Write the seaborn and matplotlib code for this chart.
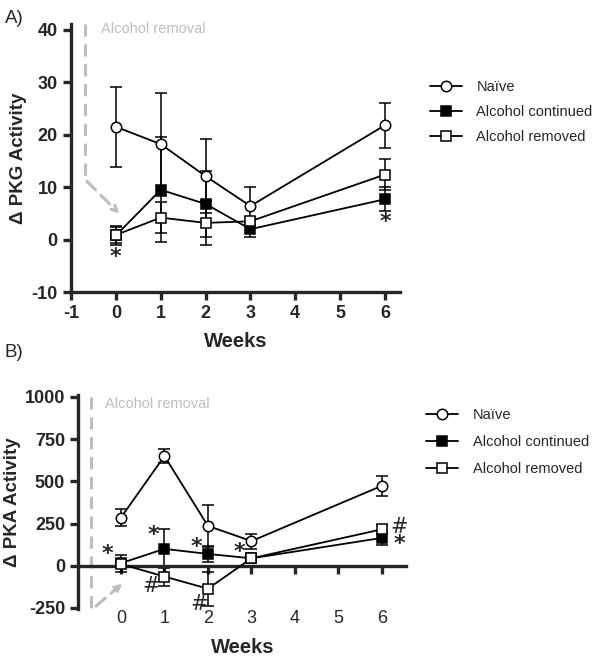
import numpy as np
import pandas as pd
import matplotlib
matplotlib.use("Agg")
import matplotlib.pyplot as plt
import seaborn as sns

# data
weeks = [0, 1, 2, 3, 6]
groups = ["Naïve", "Alcohol continued", "Alcohol removed"]

pkg_naive = [21.5, 18.2, 12.1, 6.4, 21.8]
pkg_naive_err = [7.6, 9.8, 7.0, 3.6, 4.3]
pkg_cont = [0.8, 9.5, 6.8, 2.0, 7.7]
pkg_cont_err = [1.8, 10.0, 6.3, 1.5, 2.3]
pkg_rem = [0.9, 4.2, 3.2, 3.5, 12.4]
pkg_rem_err = [1.5, 2.9, 4.2, 0.8, 2.9]

pka_naive = [285, 650, 236, 146, 474]
pka_naive_err = [50, 40, 124, 45, 60]
pka_cont = [15, 100, 70, 44, 165]
pka_cont_err = [50, 115, 45, 15, 40]
pka_rem = [10, -64, -136, 44, 216]
pka_rem_err = [20, 56, 100, 10, 25]

# significance marks (symbol, x, y)
pkg_marks = [("*", 0.0, -3.3), ("*", 6.0, 3.3)]
pka_marks = [("*", -0.3, 70), ("*", 0.75, 180), ("*", 1.73, 112), ("*", 2.72, 82),
             ("#", 0.7, -122), ("#", 1.8, -224), ("#", 6.4, 228), ("*", 6.4, 128)]

sns.set_style("ticks")
plt.rcParams["font.family"] = ["Liberation Sans", "DejaVu Sans"]
plt.rcParams["axes.unicode_minus"] = False

fig = plt.figure(figsize=(6.02, 6.61), dpi=100)
axA = fig.add_axes([0.118, 0.558, 0.546, 0.405])
axB = fig.add_axes([0.130, 0.079, 0.545, 0.323])

styles = [dict(marker="o", mfc="white"), dict(marker="s", mfc="black"), dict(marker="s", mfc="white")]
gray = "#bdbdbd"


def draw(ax, series, errs, marks):
    for name, vals, err, st in zip(groups, series, errs, styles):
        df = pd.DataFrame({"Weeks": weeks, "val": vals})
        ax.errorbar(weeks, vals, yerr=err, fmt="none", ecolor="black", elinewidth=1.1,
                    capsize=4, capthick=1.1, zorder=2)
        sns.lineplot(data=df, x="Weeks", y="val", ax=ax, color="black", lw=1.3,
                     marker=st["marker"], mfc=st["mfc"], mec="black", mew=1.1, ms=7.5,
                     label=name, zorder=3)
    for sym, x, y in marks:
        ax.text(x, y, sym, ha="center", va="center", fontsize=16 if sym == "*" else 15,
                fontweight="bold" if sym == "*" else "normal", family="DejaVu Sans")
    for s in ["top", "right"]:
        ax.spines[s].set_visible(False)
    for s in ["left", "bottom"]:
        ax.spines[s].set_linewidth(2.4)
    ax.tick_params(width=2.4, length=6, labelsize=13)
    ax.set_xlabel("Weeks", fontsize=14.5, fontweight="bold")
    ax.get_legend().remove()


# panel A
draw(axA, [pkg_naive, pkg_cont, pkg_rem], [pkg_naive_err, pkg_cont_err, pkg_rem_err], pkg_marks)
axA.set_xlim(-1, 6.33)
axA.set_ylim(-10, 41)
axA.set_xticks([-1, 0, 1, 2, 3, 4, 5, 6])
axA.set_yticks([-10, 0, 10, 20, 30, 40])
for lab in axA.get_xticklabels() + axA.get_yticklabels():
    lab.set_fontweight("bold")
axA.set_ylabel("Δ PKG Activity", fontsize=13.5, fontweight="bold", labelpad=3)
axA.xaxis.labelpad = 7
axA.plot([-0.69, -0.69], [41, 11.5], ls=(0, (4, 2.5)), color=gray, lw=2.2, clip_on=False)
axA.annotate("", xy=(0.12, 4.6), xytext=(-0.69, 11.5),
             arrowprops=dict(arrowstyle="->", color=gray, lw=2.2, ls=(0, (4, 2.5))))
axA.text(-0.34, 40.2, "Alcohol removal", color=gray, fontsize=10.5, va="center")

# panel B
draw(axB, [pka_naive, pka_cont, pka_rem], [pka_naive_err, pka_cont_err, pka_rem_err], pka_marks)
axB.set_xlim(-0.98, 6.56)
axB.set_ylim(-255, 1010)
axB.set_xticks([0, 1, 2, 3, 4, 5, 6])
axB.set_yticks([-250, 0, 250, 500, 750, 1000])
for lab in axB.get_xticklabels() + axB.get_yticklabels():
    lab.set_fontweight("bold")
axB.spines["bottom"].set_position(("data", 0))
axB.tick_params(axis="x", pad=26)
axB.set_ylabel("Δ PKA Activity", fontsize=13.5, fontweight="bold", labelpad=3)
axB.xaxis.labelpad = 8
axB.plot([-0.69, -0.69], [1000, -255], ls=(0, (4, 2.5)), color=gray, lw=2.2, clip_on=False)
axB.annotate("", xy=(0.08, -95), xytext=(-0.62, -250),
             arrowprops=dict(arrowstyle="->", color=gray, lw=2.2, ls=(0, (4, 2.5))),
             annotation_clip=False)
axB.text(-0.37, 960, "Alcohol removal", color=gray, fontsize=10.5, va="center")

# legends
hA, lA = axA.get_legend_handles_labels()
fig.legend(hA, lA, loc="upper left", bbox_to_anchor=(0.692, 0.899), frameon=False,
           fontsize=10.5, handlelength=2.2, labelspacing=0.75, handletextpad=1.0)
hB, lB = axB.get_legend_handles_labels()
fig.legend(hB, lB, loc="upper left", bbox_to_anchor=(0.686, 0.403), frameon=False,
           fontsize=10.5, handlelength=2.2, labelspacing=0.9, handletextpad=1.0)

fig.text(0.008, 0.972, "A)", fontsize=13.5, va="center")
fig.text(0.008, 0.467, "B)", fontsize=13.5, va="center")

fig.savefig("out.png", dpi=100)
